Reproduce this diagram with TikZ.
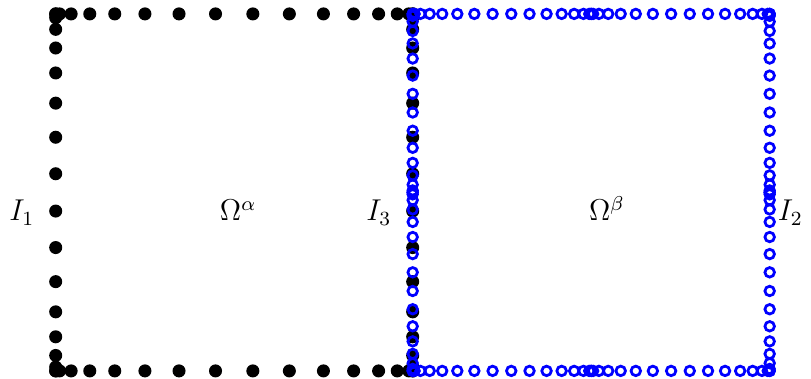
\documentclass[tikz,border=0pt]{standalone}
\usepackage{amsmath}
\usetikzlibrary{calc}

\begin{document}
\begin{tikzpicture}[x=5cm,y=5cm,
  bdot/.style={fill=black},
  bring/.style={draw=blue, line width=1.1pt},
  lbl/.style={anchor=base, inner sep=0pt, font=\large}]

  \useasboundingbox (-0.156,-0.0224) rectangle (2.1157,1.039);

  %--- Omega alpha: one panel per side, N = 15 ---
  \foreach \k in {0,...,15}{
    \pgfmathsetmacro{\s}{(1-cos(\k*12))/2}
    \fill[bdot] (\s,0) circle (2.6pt);
    \fill[bdot] (\s,1) circle (2.6pt);
    \fill[bdot] (0,\s) circle (2.6pt);
    \fill[bdot] (1,\s) circle (2.6pt);
  }

  %--- Omega beta: two panels per side, N = 15 each ---
  \foreach \k in {0,...,15}{
    \pgfmathsetmacro{\s}{(1-cos(\k*12))/4}
    \foreach \o in {0,0.5}{
      \draw[bring] (1+\o+\s,0) circle (1.9pt);
      \draw[bring] (1+\o+\s,1) circle (1.9pt);
      \draw[bring] (1,\o+\s) circle (1.9pt);
      \draw[bring] (2,\o+\s) circle (1.9pt);
    }
  }

  %--- labels ---
  \node[lbl] (I1) at (-0.095,0.42) {$I_1$};
  \node[lbl] (Oa) at (0.511,0.42) {$\Omega^\alpha$};
  \node[lbl] (I3) at (0.905,0.42) {$I_3$};
  \node[lbl] (Ob) at (1.544,0.42) {$\Omega^\beta$};
  \node[lbl] (I2) at (2.058,0.42) {$I_2$};

\end{tikzpicture}
\end{document}
